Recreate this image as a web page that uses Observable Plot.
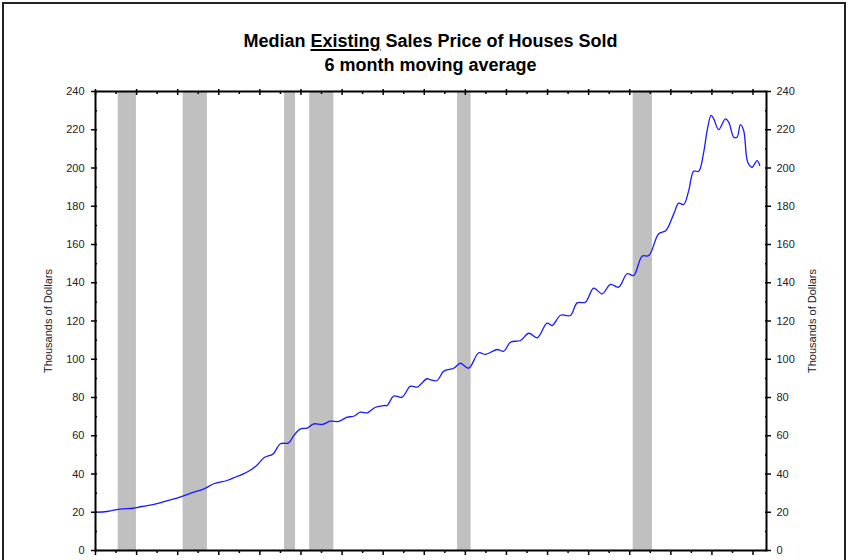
<!DOCTYPE html>
<html><head><meta charset="utf-8">
<script src="https://cdn.jsdelivr.net/npm/d3@7"></script>
<script src="https://cdn.jsdelivr.net/npm/@observablehq/plot@0.6"></script>
<style>
body{margin:0;background:#fff;}
#wrap{position:relative;width:849px;height:560px;overflow:hidden;font-family:Arial,"Liberation Sans",sans-serif;background:#fff;}
#border{position:absolute;left:2px;top:2px;width:840px;height:640px;border:2px solid #222;pointer-events:none;}
#titles{position:relative;height:80px;}
.t{position:absolute;left:0;width:861px;text-align:center;font-weight:bold;font-size:18px;color:#000;line-height:20px;}
.t1{top:31px;}
.t2{top:55px;}
.t1 u{text-decoration-thickness:2px;text-underline-offset:2px;}
#chart svg{display:block;}
</style>
</head><body>
<div id="wrap">
  <div id="titles">
    <div class="t t1">Median <u>Existing</u> Sales Price of Houses Sold</div>
    <div class="t t2">6 month moving average</div>
  </div>
  <div id="chart"></div>
  <div id="border"></div>
</div>
<script>
// Decimal year of each reading and the 6-month moving average median price (thousands of dollars)
const years = [1968.5,1969.2,1969.8,1970.2,1970.8,1971.3,1972.0,1972.9,1973.5,1974.3,1975.1,1975.7,1976.5,1977.1,1977.7,1978.3,1978.75,1979.3,1979.75,1980.25,1980.56,1980.97,1981.38,1981.78,1982.29,1982.79,1983.3,1983.81,1984.21,1984.62,1985.03,1985.53,1986.04,1986.24,1986.64,1987.15,1987.66,1988.07,1988.27,1988.67,1988.88,1989.28,1989.69,1990.29,1990.7,1991.2,1991.82,1992.22,1992.93,1993.34,1993.74,1994.35,1994.86,1995.37,1995.97,1996.28,1996.79,1997.39,1997.8,1998.3,1998.81,1999.32,1999.83,2000.33,2000.84,2001.24,2001.75,2002.16,2002.76,2003.2,2003.68,2003.98,2004.28,2004.59,2004.89,2005.2,2005.5,2005.71,2005.95,2006.11,2006.41,2006.82,2007.02,2007.33,2007.53,2007.73,2007.93,2008.18,2008.44,2008.75,2008.91];
const prices = [20.0,20.4,21.4,21.8,22.1,23.0,24.0,26.1,27.5,30.0,32.2,34.9,36.6,38.7,40.9,44.4,48.5,50.5,55.8,56.3,60.1,63.6,64.0,66.2,65.9,67.6,67.5,69.7,70.2,72.3,72.0,74.9,75.8,75.8,80.7,80.2,85.9,85.4,86.8,89.8,89.2,88.9,93.8,95.3,97.9,95.3,103.4,102.5,105.1,104.2,108.9,109.8,113.6,111.2,118.9,117.6,123.0,122.9,129.5,129.8,137.2,134.2,139.1,137.7,144.7,143.8,153.9,154.2,165.6,167.3,176.0,181.6,180.9,188.2,198.3,198.3,208.3,219.6,227.5,225.7,220.1,225.7,224.0,216.1,216.1,222.7,219.6,203.0,200.4,203.9,201.3];

// Recession shading (decimal years)
const recStart = [1969.88,1973.83,1980.0,1981.53,1990.52,2001.21];
const recEnd   = [1970.99,1975.31,1980.67,1983.0,1991.35,2002.38];

// Axis ticks
const yMajor = [0,20,40,60,80,100,120,140,160,180,200,220,240];
const yMinor = [10,30,50,70,90,110,130,150,170,190,210,230];
const xMajor = [1968.5,1971,1973.5,1976,1978.5,1981,1983.5,1986,1988.5,1991,1993.5,1996,1998.5,2001,2003.5,2006,2008.5];
const xMinor = [1969.75,1972.25,1974.75,1977.25,1979.75,1982.25,1984.75,1987.25,1989.75,1992.25,1994.75,1997.25,1999.75,2002.25,2004.75,2007.25];

const series = years.map((y,i)=>({year:y, price:prices[i]}));
const recessions = recStart.map((s,i)=>({start:s, end:recEnd[i]}));
const yTitle = "Thousands of Dollars";

const tickOnly = {fill: "none", label: null, strokeWidth: 1.5, stroke: "#000"};

const chart = Plot.plot({
  width: 849,
  height: 480,
  marginTop: 11,
  marginBottom: 10,
  marginLeft: 95,
  marginRight: 83,
  style: {fontFamily: "Arial, 'Liberation Sans', sans-serif", fontSize: "11px", color: "#222", background: "#fff"},
  x: {domain: [1968.5, 2009.32]},
  y: {domain: [0, 240]},
  marks: [
    Plot.rect(recessions, {x1: "start", x2: "end", fill: "#c0c0c0"}),
    Plot.line(series, {x: "year", y: "price", stroke: "#1a1aff", strokeWidth: 1.3, curve: "catmull-rom"}),
    Plot.frame({stroke: "#000", strokeWidth: 2}),
    // left axis
    Plot.axisY({anchor: "left", ticks: yMajor, tickSize: 0, tickPadding: 11, tickFormat: d => String(d), label: null}),
    Plot.axisY({anchor: "left", ticks: yMajor, tickSize: 4, ...tickOnly}),
    Plot.axisY({anchor: "left", ticks: yMajor, tickSize: -2, ...tickOnly}),
    Plot.axisY({anchor: "left", ticks: yMinor, tickSize: -2, ...tickOnly}),
    // right axis
    Plot.axisY({anchor: "right", ticks: yMajor, tickSize: 0, tickPadding: 10, tickFormat: d => String(d), label: null}),
    Plot.axisY({anchor: "right", ticks: yMajor, tickSize: 4, ...tickOnly}),
    Plot.axisY({anchor: "right", ticks: yMajor, tickSize: -2, ...tickOnly}),
    Plot.axisY({anchor: "right", ticks: yMinor, tickSize: -2, ...tickOnly}),
    // top axis
    Plot.axisX({anchor: "top", ticks: xMajor, tickSize: 3, ...tickOnly}),
    Plot.axisX({anchor: "top", ticks: xMajor, tickSize: -3, ...tickOnly}),
    Plot.axisX({anchor: "top", ticks: xMinor, tickSize: -2, ...tickOnly}),
    // bottom axis
    Plot.axisX({anchor: "bottom", ticks: xMajor, tickSize: 5, ...tickOnly}),
    Plot.axisX({anchor: "bottom", ticks: xMinor, tickSize: 3, ...tickOnly}),
    // axis titles
    Plot.text([yTitle], {frameAnchor: "left", dx: -47, rotate: -90, textAnchor: "middle", fontSize: 11, fill: "#222", text: d => d}),
    Plot.text([yTitle], {frameAnchor: "right", dx: 46, rotate: -90, textAnchor: "middle", fontSize: 11, fill: "#222", text: d => d})
  ]
});
document.getElementById("chart").appendChild(chart);
</script>
</body></html>
